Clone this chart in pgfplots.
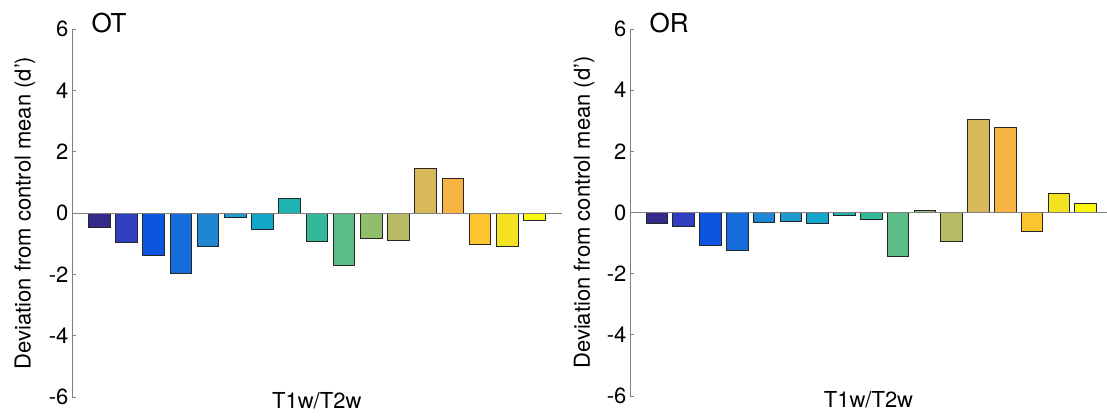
\documentclass[border=0pt]{standalone}
\usepackage{fontspec}
\setmainfont{TeX Gyre Heros}
\usepackage{pgfplots}
\pgfplotsset{compat=1.18}
\definecolor{c1}{HTML}{332A8A}
\definecolor{c2}{HTML}{2F3FBF}
\definecolor{c3}{HTML}{0C55E0}
\definecolor{c4}{HTML}{166CDC}
\definecolor{c5}{HTML}{1F86D4}
\definecolor{c6}{HTML}{1E9AD0}
\definecolor{c7}{HTML}{12A6C9}
\definecolor{c8}{HTML}{1DB3B0}
\definecolor{c9}{HTML}{33B89A}
\definecolor{c10}{HTML}{5BBD85}
\definecolor{c11}{HTML}{92BD6A}
\definecolor{c12}{HTML}{B8BB64}
\definecolor{c13}{HTML}{D8B95A}
\definecolor{c14}{HTML}{F7B443}
\definecolor{c15}{HTML}{FCC52F}
\definecolor{c16}{HTML}{F2E21F}
\definecolor{c17}{HTML}{F8F80F}
\definecolor{axgray}{HTML}{808080}
\definecolor{edgec}{HTML}{262626}
\newcommand{\onebar}[3]{\addplot[ybar, bar width=0.8, bar shift=0pt, fill=#1, draw=edgec, line width=0.8pt] coordinates {(#2,#3)};}
\pgfplotsset{barpanel/.style={
  scale only axis,
  enlargelimits=false,
  xmin=0, ymin=-6, ymax=6,
  axis x line=none,
  axis y line*=left,
  axis line style={color=axgray, line width=0.8pt},
  ytick={-6,-4,-2,0,2,4,6},
  tick align=inside,
  major tick length=4pt,
  ytick style={color=axgray, line width=0.8pt},
  yticklabel style={font=\fontsize{22}{26}\selectfont, text=black},
  /pgf/number format/assume math mode=true,
  ylabel={Deviation from control mean (d’)},
  ylabel style={font=\fontsize{22}{26}\selectfont, at={(axis description cs:-0.096,0.5)}, anchor=center},
  clip=false,
}}
\begin{document}
\begin{tikzpicture}
\useasboundingbox (0,0) rectangle (1107pt,417pt);
\begin{axis}[barpanel, at={(72pt,20pt)}, anchor=south west, width=489.6pt, height=368pt, xmax=18]
\onebar{c1}{1}{-0.47}
\onebar{c2}{2}{-0.95}
\onebar{c3}{3}{-1.39}
\onebar{c4}{4}{-1.97}
\onebar{c5}{5}{-1.08}
\onebar{c6}{6}{-0.15}
\onebar{c7}{7}{-0.55}
\onebar{c8}{8}{0.49}
\onebar{c9}{9}{-0.91}
\onebar{c10}{10}{-1.72}
\onebar{c11}{11}{-0.84}
\onebar{c12}{12}{-0.88}
\onebar{c13}{13}{1.47}
\onebar{c14}{14}{1.12}
\onebar{c15}{15}{-1.01}
\onebar{c16}{16}{-1.10}
\onebar{c17}{17}{-0.25}
\draw[axgray, line width=0.8pt] (axis cs:0,0) -- (axis cs:18,0);
\node[font=\fontsize{26}{30}\selectfont, anchor=base west] at ([xshift=16pt,yshift=-4pt]rel axis cs:0,1) {OT};
\node[font=\fontsize{22}{26}\selectfont, anchor=center] at ([yshift=-4pt]rel axis cs:0.5,0) {T1w/T2w};
\end{axis}
\begin{axis}[barpanel, at={(630pt,21pt)}, anchor=south west, width=477pt, height=367pt, xmax=17.8]
\onebar{c1}{1}{-0.35}
\onebar{c2}{2}{-0.46}
\onebar{c3}{3}{-1.08}
\onebar{c4}{4}{-1.23}
\onebar{c5}{5}{-0.33}
\onebar{c6}{6}{-0.29}
\onebar{c7}{7}{-0.36}
\onebar{c8}{8}{-0.11}
\onebar{c9}{9}{-0.24}
\onebar{c10}{10}{-1.42}
\onebar{c11}{11}{0.07}
\onebar{c12}{12}{-0.96}
\onebar{c13}{13}{3.05}
\onebar{c14}{14}{2.77}
\onebar{c15}{15}{-0.63}
\onebar{c16}{16}{0.63}
\onebar{c17}{17}{0.31}
\draw[axgray, line width=0.8pt] (axis cs:0,0) -- (axis cs:17.8,0);
\node[font=\fontsize{26}{30}\selectfont, anchor=base west] at ([xshift=16pt,yshift=-4pt]rel axis cs:0,1) {OR};
\node[font=\fontsize{22}{26}\selectfont, anchor=center] at ([yshift=-4pt]rel axis cs:0.5,0) {T1w/T2w};
\end{axis}
\end{tikzpicture}
\end{document}
